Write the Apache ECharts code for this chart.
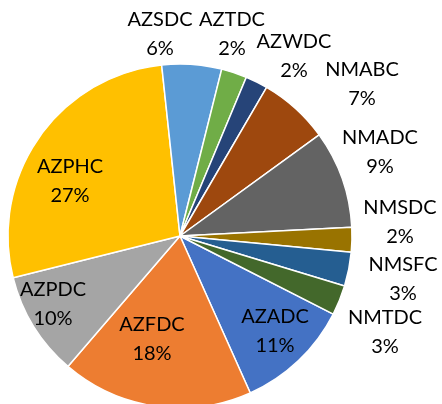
<!DOCTYPE html>
<html>
<head>
<meta charset="utf-8">
<script src="https://cdn.jsdelivr.net/npm/echarts@6/dist/echarts.min.js"></script>
<style>
  html, body { margin: 0; padding: 0; background: #fff; }
  #main { width: 442px; height: 404px; }
</style>
</head>
<body>
<div id="main"></div>
<script>
// plant names and their share (percent)
var names = ['AZADC', 'AZFDC', 'AZPDC', 'AZPHC', 'AZSDC', 'AZTDC', 'AZWDC',
             'NMABC', 'NMADC', 'NMSDC', 'NMSFC', 'NMTDC'];
var shares = [10.8, 18.0, 9.8, 27.2, 5.6, 2.4, 2.1, 6.6, 9.2, 2.3, 3.2, 2.8];
var colors = ['#4472C4', '#ED7D31', '#A5A5A5', '#FFC000', '#5B9BD5', '#70AD47',
              '#264478', '#9E480E', '#636363', '#997300', '#255E91', '#43682B'];

// where the labels sit (Excel "best fit"), in px
var labelSpots = [
    [275, 331], [152, 339], [53, 304], [70, 181], [160, 34], [232, 34],
    [294, 56], [362, 84], [380, 152], [400, 222], [403, 279], [385, 332]
];

var chart = echarts.init(document.getElementById('main'));

var data = [];
for (var i = 0; i < names.length; i++) {
    data.push({ name: names[i], value: shares[i], itemStyle: { color: colors[i] } });
}

var option = {
    animation: false,
    series: [{
        type: 'pie',
        center: [180, 236],
        radius: 172,
        startAngle: -27,
        clockwise: true,
        avoidLabelOverlap: false,
        itemStyle: { borderColor: '#fff', borderWidth: 1.5 },
        label: {
            show: true,
            position: 'inside',
            formatter: function (p) { return p.name + '\n' + Math.round(p.percent) + '%'; },
            color: '#000',
            fontFamily: 'Lato',
            fontSize: 20,
            lineHeight: 29,
            align: 'center'
        },
        labelLine: { show: false },
        labelLayout: function (params) {
            var s = labelSpots[params.dataIndex];
            return { x: s[0], y: s[1], align: 'center', verticalAlign: 'middle' };
        },
        emphasis: { disabled: true },
        data: data
    }]
};

chart.setOption(option);
</script>
</body>
</html>
